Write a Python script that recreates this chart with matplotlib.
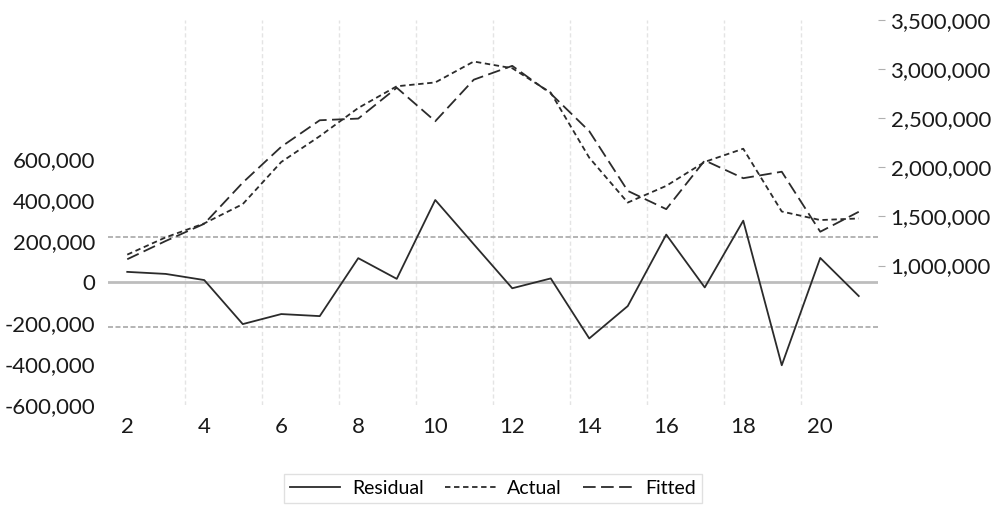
import numpy as np
import matplotlib
matplotlib.use("Agg")
import matplotlib.pyplot as plt
from matplotlib.ticker import FuncFormatter

# ------------------------------
# values

obs = list(range(2, 22))
residual = [50000, 40000, 10000, -205000, -156000, -166000, 117000, 16000, 401000, 185000,
            -30000, 18000, -275000, -117000, 232000, -26000, 300000, -406000, 118000, -68000]
actual = [1111000, 1287000, 1429000, 1625000, 2054000, 2317000, 2604000, 2825000, 2864000, 3077000,
          3009000, 2760000, 2098000, 1641000, 1811000, 2055000, 2189000, 1550000, 1463000, 1479000]
fitted = [1064000, 1250000, 1425000, 1844000, 2209000, 2479000, 2496000, 2810000, 2469000, 2892000,
          3033000, 2750000, 2368000, 1760000, 1574000, 2070000, 1889000, 1955000, 1344000, 1547000]
resid_sd = 220000

left_ticks = [-600000, -400000, -200000, 0, 200000, 400000, 600000]
right_ticks = [1000000, 1500000, 2000000, 2500000, 3000000, 3500000]
x_ticks = [2, 4, 6, 8, 10, 12, 14, 16, 18, 20]
grid_x = [3.5, 5.5, 7.5, 9.5, 11.5, 13.5, 15.5, 17.5, 19.5]

# ------------------------------

plt.rcParams['font.family'] = ['Lato', 'DejaVu Sans']
comma = FuncFormatter(lambda v, p: "{:,.0f}".format(v))

fig = plt.figure(figsize=(10, 5.07), dpi=100)
ax = fig.add_axes([0.108, 0.2012, 0.77, 0.7594])
ax2 = ax.twinx()

for gx in grid_x:
    ax.axvline(gx, color='#e4e4e4', lw=1, ls=(0, (3, 2)), zorder=0)

ax.axhline(0, color='#bdbdbd', lw=2, zorder=1)
ax.axhline(resid_sd, color='#a8a8a8', lw=1.2, ls=(0, (3, 1.5)), zorder=1)
ax.axhline(-resid_sd, color='#a8a8a8', lw=1.2, ls=(0, (3, 1.5)), zorder=1)

l1, = ax.plot(obs, residual, color='#2b2b2b', lw=1.3, label='Residual', zorder=3)
l2, = ax2.plot(obs, actual, color='#2b2b2b', lw=1.3, ls=(0, (3, 2)), label='Actual')
l3, = ax2.plot(obs, fitted, color='#2b2b2b', lw=1.3, ls=(0, (7, 3)), label='Fitted')

ax.set_xlim(1.5, 21.5)
ax.set_ylim(-600000, 1280000)
ax2.set_ylim(-420000, 3500000)

ax.set_xticks(x_ticks)
ax.set_yticks(left_ticks)
ax2.set_yticks(right_ticks)
ax.yaxis.set_major_formatter(comma)
ax2.yaxis.set_major_formatter(comma)

ax.tick_params(axis='x', length=0, pad=9, labelsize=16, colors='#1a1a1a')
ax.tick_params(axis='y', length=0, pad=9, labelsize=16, colors='#1a1a1a')
ax2.tick_params(axis='y', length=5, width=0.8, color='#b0b0b0', pad=4, labelsize=16, labelcolor='#1a1a1a')

for a in (ax, ax2):
    for s in a.spines.values():
        s.set_visible(False)

leg = fig.legend(handles=[l1, l2, l3], loc='center', bbox_to_anchor=(0.493, 0.0365), ncol=3,
                 fontsize=14, frameon=True, fancybox=False, handlelength=2.6,
                 columnspacing=1.1, handletextpad=0.6, borderpad=0.3)
leg.get_frame().set_edgecolor('#d9d9d9')
leg.get_frame().set_linewidth(1)

plt.savefig('out.png', dpi=100)
